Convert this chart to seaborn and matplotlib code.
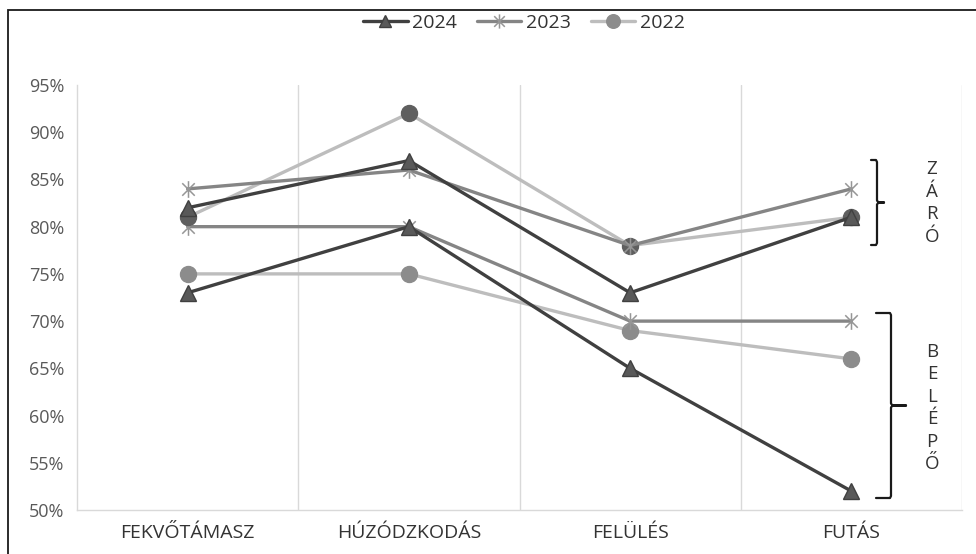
import numpy as np
import pandas as pd
import seaborn as sns
import matplotlib.pyplot as plt
from matplotlib.path import Path
from matplotlib.lines import Line2D
from matplotlib.patches import Rectangle

# adatok
categories = ['FEKVŐTÁMASZ', 'HÚZÓDZKODÁS', 'FELÜLÉS', 'FUTÁS']
zaro_2024 = [82, 87, 73, 81]
zaro_2023 = [84, 86, 78, 84]
zaro_2022 = [81, 92, 78, 81]
belepo_2024 = [73, 80, 65, 52]
belepo_2023 = [80, 80, 70, 70]
belepo_2022 = [75, 75, 69, 66]
years = ['2024', '2023', '2022']
y_ticks = [50, 55, 60, 65, 70, 75, 80, 85, 90, 95]
zaro_label = 'ZÁRÓ'
belepo_label = 'BELÉPŐ'

sns.set_theme(style='white')
plt.rcParams['font.family'] = ['Open Sans', 'DejaVu Sans']

# Excel-szerű csillag marker (X + függőleges vonal)
star = Path([(0, -1), (0, 1), (-0.75, -0.75), (0.75, 0.75), (-0.75, 0.75), (0.75, -0.75)],
            [Path.MOVETO, Path.LINETO, Path.MOVETO, Path.LINETO, Path.MOVETO, Path.LINETO])

styles = {
    '2024': dict(color='#404040', marker='^', markersize=11, markerfacecolor='#595959',
                 markeredgecolor='#404040', markeredgewidth=1),
    '2023': dict(color='#858585', marker=star, markersize=12, markerfacecolor='none',
                 markeredgecolor='#969696', markeredgewidth=1.1),
    '2022': dict(color='#bdbdbd', marker='o', markersize=11.5, markerfacecolor='#8c8c8c',
                 markeredgecolor='#8c8c8c', markeredgewidth=1),
}

series = [
    ('2022', belepo_2022, None),
    ('2023', belepo_2023, None),
    ('2024', belepo_2024, None),
    ('2022', zaro_2022, '#5f5f5f'),
    ('2023', zaro_2023, None),
    ('2024', zaro_2024, None),
]

fig = plt.figure(figsize=(9.76, 5.54), dpi=100)
ax = fig.add_axes([77 / 976, 1 - 510 / 554, (962 - 77) / 976, (510 - 85) / 554])

x = np.arange(len(categories))
for year, vals, mcol in series:
    kw = dict(styles[year])
    if mcol:
        kw['markerfacecolor'] = mcol
        kw['markeredgecolor'] = mcol
    df = pd.DataFrame({'x': x, 'y': np.array(vals) / 100})
    sns.lineplot(data=df, x='x', y='y', ax=ax, sort=False, linewidth=2.4, **kw)

ax.set_xlim(-0.5, len(categories) - 0.5)
ax.set_ylim(0.5, 0.95)
ax.set_xticks(x)
ax.set_xticklabels(categories, fontsize=14, color='#333333')
ax.set_yticks([t / 100 for t in y_ticks])
ax.set_yticklabels([f'{t}%' for t in y_ticks], fontsize=13, color='#595959')
ax.tick_params(axis='both', length=0)
ax.tick_params(axis='y', pad=9)
ax.tick_params(axis='x', pad=10)
ax.set_xlabel('')
ax.set_ylabel('')

# függőleges rácsvonalak a kategóriák között
for b in np.arange(0.5, len(categories), 1):
    ax.axvline(b, color='#d9d9d9', linewidth=1, zorder=0)
for s in ['top', 'right']:
    ax.spines[s].set_visible(False)
for s in ['left', 'bottom']:
    ax.spines[s].set_color('#d9d9d9')
    ax.spines[s].set_linewidth(1)

# jelmagyarázat
leg_styles = {y: dict(styles[y], markersize=styles[y]['markersize'] * 0.85) for y in years}
handles = [Line2D([], [], linewidth=2.4, **leg_styles[y]) for y in years]
fig.legend(handles, years, loc='center', bbox_to_anchor=(524 / 976, 1 - 23 / 554), ncol=3,
           frameon=False, fontsize=14, labelcolor='#333333', handlelength=2.3,
           columnspacing=1.0, handletextpad=0.25)


# kapcsos zárójelek
def px(xp, yp):
    return fig.transFigure.inverted().transform(
        fig.dpi_scale_trans.transform((xp / 100, (554 - yp) / 100)))


def brace(x_end, x_mid, x_tip, y_top, y_bot):
    ym = (y_top + y_bot) / 2
    pts = [(x_end, y_top), (x_mid - 1, y_top), (x_mid, y_top + 2), (x_mid, ym - 2),
           (x_mid + 1.5, ym), (x_tip, ym), (x_mid + 1.5, ym), (x_mid, ym + 2),
           (x_mid, y_bot - 2), (x_mid - 1, y_bot), (x_end, y_bot)]
    xy = np.array([px(a, b) for a, b in pts])
    fig.add_artist(Line2D(xy[:, 0], xy[:, 1], color='#1a1a1a', linewidth=1.6))


brace(871, 877, 884, 160, 245)
brace(876, 891, 906, 313, 498)

zx, zy = px(932, 203)
fig.text(zx, zy, '\n'.join(zaro_label), ha='center', va='center', fontsize=13.5,
         color='#333333', linespacing=1.32)
bx, by = px(932, 408)
fig.text(bx, by, '\n'.join(belepo_label), ha='center', va='center', fontsize=13.5,
         color='#333333', linespacing=1.32)

# külső keret
fig.add_artist(Rectangle((8 / 976, -0.1), 1.1, 1.1 - 10 / 554, transform=fig.transFigure,
                         fill=False, edgecolor='#1a1a1a', linewidth=1.3))

fig.savefig('out.png', dpi=100, facecolor='white')
